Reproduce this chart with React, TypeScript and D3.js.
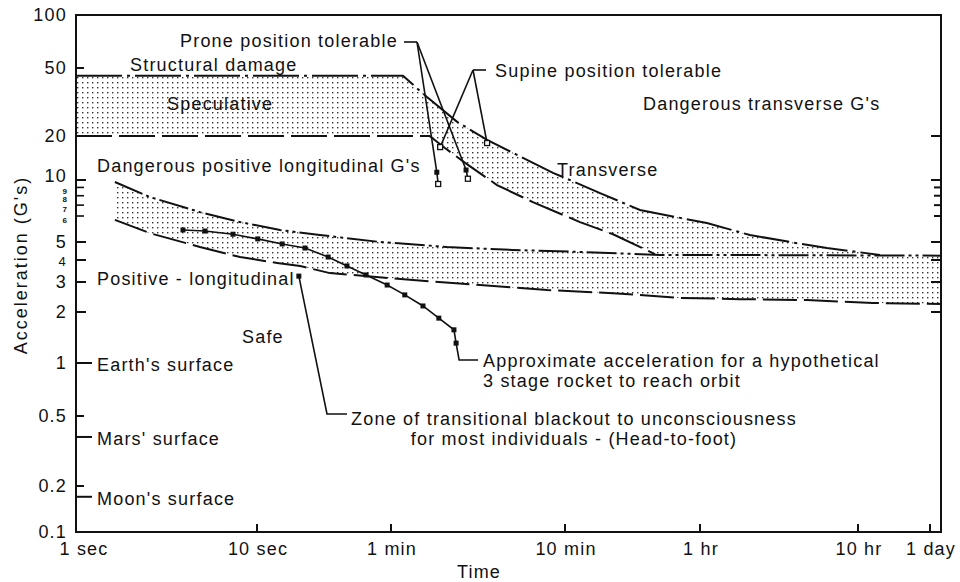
import React from 'react';
import * as d3 from 'd3';

// time in seconds, acceleration in G's

// "structural damage" ceiling and the floor of the speculative band
const structuralG = 45;
const speculativeLowG = 20;

// transverse tolerance band
const transUpperT = [70.3, 96.6, 144, 214, 512, 955, 1622, 3980, 7450, 13370, 22900, 47000];
const transUpperG = [45, 33.8, 24.2, 18.8, 11.2, 8.31, 6.53, 5.71, 5.25, 5.0, 4.64, 4.26];
const transLowerT = [100, 122, 160, 244, 392, 732, 1135, 1980];
const transLowerG = [20, 16.6, 13.1, 9.31, 7.31, 5.75, 5.28, 4.3];

// positive longitudinal band
const longUpperT = [1.64, 2.56, 4.84, 8.06, 13.6, 23.2, 51.9, 126, 301, 732, 2120, 8630, 100000];
const longUpperG = [9.72, 7.85, 6.34, 5.75, 5.44, 5.25, 5.0, 4.7, 4.53, 4.42, 4.26, 4.25, 4.22];
const longLowerT = [1.64, 2.56, 4.84, 8.06, 13.1, 17.8, 26.5, 80.2, 195, 473, 1135, 2760, 6440, 17100, 43200, 100000];
const longLowerG = [5.84, 5.32, 4.7, 4.15, 3.85, 3.7, 3.37, 3.08, 2.88, 2.69, 2.58, 2.42, 2.38, 2.35, 2.26, 2.23];

// 3 stage rocket
const rocketT = [3.9, 5.16, 7.37, 10.1, 14, 19, 25.9, 33.3, 43, 57, 72, 91.6, 113, 138, 142];
const rocketG = [5.44, 5.4, 5.28, 5.11, 4.88, 4.64, 4.15, 3.7, 3.29, 2.88, 2.52, 2.17, 1.84, 1.57, 1.31];

// prone / supine tolerance points
const proneTopT = [110, 162];
const proneTopG = [11.3, 11.7];
const proneEndT = [112, 166];
const proneEndG = [9.45, 10.2];
const supineT = [115, 214];
const supineG = [16.8, 17.9];

// blackout zone pointer
const blackoutT = 17.5;
const blackoutG = 3.24;

// axes
const xTicks = [1, 10, 60, 600, 3600, 36000, 86400];
const xTickLabels = ['1 sec', '10 sec', '1 min', '10 min', '1 hr', '10 hr', '1 day'];
const yTicks = [0.1, 0.2, 0.5, 1, 2, 3, 4, 5, 10, 20, 50, 100];
const yMinor = [6, 7, 8, 9];
const surfaces = ["Earth's surface", "Mars' surface", "Moon's surface"];
const surfaceG = [1, 0.38, 0.17];
const rightTicks = [20, 10, 9, 8, 7, 6, 5, 4, 3, 2];

// the printed axes are not evenly spaced, so map log values piecewise onto them
const xScale = d3
  .scaleLinear()
  .domain([1, 10, 60, 600, 3600, 36000, 86400, 100000].map(Math.log10))
  .range([76, 257, 391, 565, 700, 858, 930, 942]);
const yScale = d3
  .scaleLinear()
  .domain([0.1, 0.2, 0.5, 1, 2, 3, 4, 5, 6, 10, 20, 50, 100].map(Math.log10))
  .range([532, 486, 416, 363, 312, 282, 260, 242, 216, 180, 136, 68, 15]);
const x = (t: number) => xScale(Math.log10(t));
const y = (g: number) => yScale(Math.log10(g));

const FONT = '"Liberation Sans", Arial, sans-serif';

type P = [number, number];
const zip = (ts: number[], gs: number[]): P[] => ts.map((t, i) => [t, gs[i]] as P);

function Label({ x, y, children, anchor = 'start', size = 18, spacing = 1.2 }: any) {
  return (
    <text x={x} y={y} fontSize={size} letterSpacing={spacing} textAnchor={anchor} fill="#111">
      {children}
    </text>
  );
}

export default function App() {
  const line = d3.line<P>().x((d) => x(d[0])).y((d) => y(d[1]));

  const left = xScale.range()[0];
  const right = 941;
  const top = 15;
  const bottom = 532;

  const transUpper: P[] = [[1, structuralG], ...zip(transUpperT, transUpperG)];
  const transLower: P[] = [[1, speculativeLowG], ...zip(transLowerT, transLowerG)];
  const lastLow = transLowerT[transLowerT.length - 1];
  const lastUp = transUpperT[transUpperT.length - 1];
  const joinPts = zip(longUpperT, longUpperG).filter((d) => d[0] > lastLow && d[0] < lastUp);
  const transPoly = [...transUpper, ...[...transLower, ...joinPts].reverse()];

  const longUpper = zip(longUpperT, longUpperG);
  const longLower = zip(longLowerT, longLowerG);
  const longPoly = [...longUpper, ...longLower.slice().reverse()];

  const rocket = zip(rocketT, rocketG);
  const rocketEnd = rocket[rocket.length - 1];

  const proneHub: P = [417, 42];
  const supineHub: P = [473, 70];

  return (
    <svg
      width={960}
      height={582}
      style={{ position: 'absolute', left: 0, top: 0, background: '#fff' }}
      fontFamily={FONT}
    >
      <defs>
        <pattern id="dots" width={5} height={5} patternUnits="userSpaceOnUse">
          <rect x={2} y={2} width={1.4} height={1.4} fill="#333" />
        </pattern>
      </defs>
      <rect width={960} height={582} fill="#fff" />

      {/* shaded bands */}
      <path d={line(transPoly) + 'Z'} fill="url(#dots)" />
      <path d={line(longPoly) + 'Z'} fill="url(#dots)" />

      {/* band boundaries */}
      <g fill="none" stroke="#111" strokeWidth={2}>
        <path d={line(transUpper)!} strokeDasharray="46 5 3 5" />
        <path d={line(transLower)!} strokeDasharray="36 7" />
        <path d={line(longUpper)!} strokeDasharray="30 4 3 4 3 4" />
        <path d={line(longLower)!} strokeDasharray="34 7" />
      </g>

      {/* rocket trajectory */}
      <path d={line(rocket)!} fill="none" stroke="#111" strokeWidth={1.6} />
      {rocket.map((d, i) => (
        <rect key={i} x={x(d[0]) - 2.5} y={y(d[1]) - 2.5} width={5} height={5} fill="#111" />
      ))}
      <polyline
        points={`${x(rocketEnd[0])},${y(rocketEnd[1])} ${x(rocketEnd[0]) + 3},360 ${x(rocketEnd[0]) + 22},360`}
        fill="none"
        stroke="#111"
        strokeWidth={1.6}
      />

      {/* blackout pointer */}
      <rect x={x(blackoutT) - 2.5} y={y(blackoutG) - 2.5} width={5} height={5} fill="#111" />
      <polyline
        points={`${x(blackoutT)},${y(blackoutG)} 327,414 347,414`}
        fill="none"
        stroke="#111"
        strokeWidth={1.6}
      />

      {/* prone tolerance */}
      <line x1={404} y1={proneHub[1]} x2={proneHub[0]} y2={proneHub[1]} stroke="#111" strokeWidth={1.6} />
      {proneTopT.map((t, i) => (
        <g key={i}>
          <line x1={proneHub[0]} y1={proneHub[1]} x2={x(t)} y2={y(proneTopG[i])} stroke="#111" strokeWidth={1.6} />
          <line x1={x(t)} y1={y(proneTopG[i])} x2={x(proneEndT[i])} y2={y(proneEndG[i])} stroke="#111" strokeWidth={1.6} />
          <rect x={x(t) - 2.5} y={y(proneTopG[i]) - 2.5} width={5} height={5} fill="#111" />
          <rect x={x(proneEndT[i]) - 2.5} y={y(proneEndG[i]) - 2.5} width={5} height={5} fill="#fff" stroke="#111" strokeWidth={1.3} />
        </g>
      ))}

      {/* supine tolerance */}
      <line x1={supineHub[0]} y1={supineHub[1]} x2={486} y2={supineHub[1]} stroke="#111" strokeWidth={1.6} />
      {supineT.map((t, i) => (
        <g key={i}>
          <line x1={supineHub[0]} y1={supineHub[1]} x2={x(t)} y2={y(supineG[i])} stroke="#111" strokeWidth={1.6} />
          <rect x={x(t) - 2.5} y={y(supineG[i]) - 2.5} width={5} height={5} fill="#fff" stroke="#111" strokeWidth={1.3} />
        </g>
      ))}

      {/* frame */}
      <rect x={left} y={top} width={right - left} height={bottom - top} fill="none" stroke="#111" strokeWidth={2} />

      {/* x axis */}
      {xTicks.map((t, i) => (
        <g key={t}>
          {i > 0 && <line x1={x(t)} x2={x(t)} y1={bottom} y2={bottom - 8} stroke="#111" strokeWidth={2} />}
          <Label x={x(t) + (i === 0 ? 8 : 1)} y={555} anchor="middle">
            {xTickLabels[i]}
          </Label>
        </g>
      ))}
      <Label x={479} y={578} anchor="middle">
        Time
      </Label>

      {/* y axis */}
      {yTicks.map((g) => {
        const len = g === 1 ? 16 : g === 50 || g === 0.5 || g === 0.2 ? 8 : 10;
        return (
          <g key={g}>
            {g !== 100 && g !== 0.1 && (
              <line x1={left} x2={left + len} y1={y(g)} y2={y(g)} stroke="#111" strokeWidth={2} />
            )}
            <Label x={67} y={y(g) + (g === 10 ? 2 : 6)} anchor="end" size={g === 4 ? 13 : 18}>
              {String(g)}
            </Label>
          </g>
        );
      })}
      {yMinor.map((g) => (
        <g key={g}>
          <line x1={left} x2={left + 8} y1={y(g)} y2={y(g)} stroke="#111" strokeWidth={1.6} />
          <text x={67} y={y(g) + 6.5} fontSize={8} fontWeight="bold" textAnchor="end" fill="#111">
            {g}
          </text>
        </g>
      ))}
      {surfaceG.map((g, i) => (
        <g key={g}>
          <line x1={left} x2={left + 16} y1={y(g)} y2={y(g)} stroke="#111" strokeWidth={2} />
          <Label x={97} y={y(g) + 8}>
            {surfaces[i]}
          </Label>
        </g>
      ))}
      {rightTicks.map((g) => (
        <line
          key={g}
          x1={right}
          x2={right - (yMinor.includes(g) ? 7 : 10)}
          y1={y(g)}
          y2={y(g)}
          stroke="#111"
          strokeWidth={2}
        />
      ))}
      <g transform="translate(27,265) rotate(-90)">
        <Label x={0} y={0} anchor="middle" spacing={2}>
          Acceleration (G's)
        </Label>
      </g>

      {/* annotations */}
      <Label x={180} y={47}>Prone position tolerable</Label>
      <Label x={130} y={71}>Structural damage</Label>
      <Label x={495} y={77}>Supine position tolerable</Label>
      <Label x={167} y={110}>Speculative</Label>
      <Label x={643} y={110}>Dangerous transverse G's</Label>
      <Label x={97} y={172}>Dangerous positive longitudinal G's</Label>
      <Label x={557} y={176}>Transverse</Label>
      <Label x={97} y={285}>Positive - longitudinal</Label>
      <Label x={242} y={343}>Safe</Label>
      <Label x={483} y={367}>Approximate acceleration for a hypothetical</Label>
      <Label x={483} y={387}>3 stage rocket to reach orbit</Label>
      <Label x={574} y={425} anchor="middle">Zone of transitional blackout to unconsciousness</Label>
      <Label x={574} y={445} anchor="middle">for most individuals - (Head-to-foot)</Label>
    </svg>
  );
}
